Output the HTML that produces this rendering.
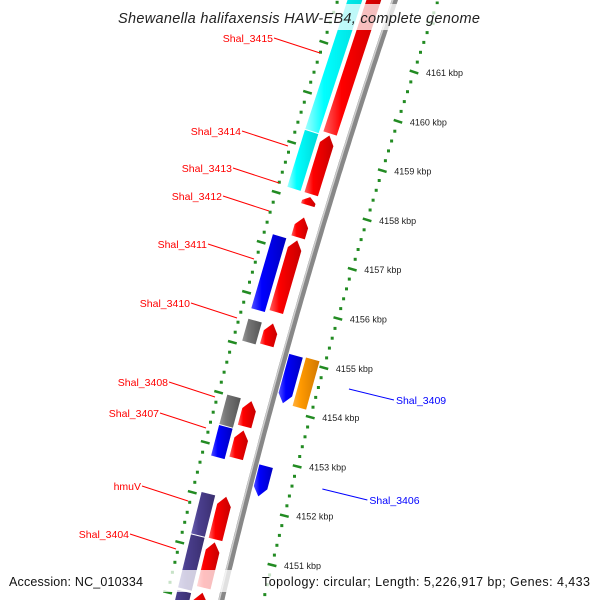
<!DOCTYPE html>
<html><head><meta charset="utf-8">
<style>
html,body{margin:0;padding:0;background:#fff}
svg{display:block}
text{font-family:"Liberation Sans",sans-serif}
</style></head>
<body>
<svg id="map" width="600" height="600" viewBox="0 0 600 600" xmlns="http://www.w3.org/2000/svg">
<defs>
<linearGradient id="gr" x1="0" x2="1"><stop offset="0" stop-color="#ff6060"/><stop offset="0.3" stop-color="#ff0000"/><stop offset="1" stop-color="#c80000"/></linearGradient>
<linearGradient id="gc" x1="0" x2="1"><stop offset="0" stop-color="#a0ffff"/><stop offset="0.3" stop-color="#00ffff"/><stop offset="1" stop-color="#00d8d8"/></linearGradient>
<linearGradient id="gb" x1="0" x2="1"><stop offset="0" stop-color="#5050ff"/><stop offset="0.3" stop-color="#0000ff"/><stop offset="1" stop-color="#0000c0"/></linearGradient>
<linearGradient id="gg" x1="0" x2="1"><stop offset="0" stop-color="#999"/><stop offset="0.3" stop-color="#777"/><stop offset="1" stop-color="#555"/></linearGradient>
<linearGradient id="gp" x1="0" x2="1"><stop offset="0" stop-color="#6a60b0"/><stop offset="0.3" stop-color="#4b3f8f"/><stop offset="1" stop-color="#3a2f70"/></linearGradient>
<linearGradient id="go" x1="0" x2="1"><stop offset="0" stop-color="#ffb040"/><stop offset="0.3" stop-color="#ff9900"/><stop offset="1" stop-color="#d07800"/></linearGradient>
</defs>
<g id="layer"></g>
<rect x="0" y="4" width="600" height="26" fill="#fff" opacity="0.75"/>
<text x="299" y="23" font-size="14.5" font-style="italic" text-anchor="middle" fill="#222" textLength="362">Shewanella halifaxensis HAW-EB4, complete genome</text>
<rect x="0" y="570" width="600" height="22" fill="#fff" opacity="0.75"/>
<text x="9" y="586" font-size="12.5" fill="#111" textLength="134">Accession: NC_010334</text>
<text x="262" y="586" font-size="12.5" fill="#111" textLength="328">Topology: circular; Length: 5,226,917 bp; Genes: 4,433</text>
</svg>
<script>
// Data (kbp)
const rulerTicks = [4151,4152,4153,4154,4155,4156,4157,4158,4159,4160,4161,4162];
const fwdStarts = [4159.38,4158.16,4157.94,4157.29,4155.79,4155.12,4153.49,4152.85,4151.22,4150.25,4149.44];
const fwdEnds   = [4162.42,4159.34,4158.10,4157.69,4157.23,4155.56,4154.00,4153.41,4152.08,4151.16,4150.15];
const catStarts = [4159.32,4158.16,4155.73,4155.08,4153.41,4152.78,4151.22,4150.14,4149.30];
const catEnds   = [4162.28,4159.30,4157.21,4155.52,4154.00,4153.39,4152.05,4151.20,4150.09];
const catColors = ["gc","gc","gb","gg","gg","gb","gp","gp","gp"];
const revStarts = [4154.12,4152.24];
const revEnds   = [4155.08,4152.85];
const revColors = ["gb","gb"];
const orangeStart = [4154.12];
const orangeEnd = [4155.10];
const fwdLabels = ["Shal_3415","Shal_3414","Shal_3413","Shal_3412","Shal_3411","Shal_3410","Shal_3408","Shal_3407","hmuV","Shal_3404"];
const fwdLabelY = [38,131,168,196,244,303,382,413,486,534];
const fwdLabelX = [273,241,232,222,207,190,168,159,141,129];
const revLabels = ["Shal_3409","Shal_3406"];
const revLabelY = [400,500];

const NS="http://www.w3.org/2000/svg";
const layer=document.getElementById('layer');
const PX=49.3;
const RP=[[72,414],[318,338],[565,272]];
function rulerX(y){
  let s=0;
  for(let i=0;i<3;i++){let t=RP[i][1];for(let j=0;j<3;j++){if(j!==i)t*=(y-RP[j][0])/(RP[i][0]-RP[j][0]);}s+=t;}
  return s;
}
function slopeAt(y){return (rulerX(y+0.5)-rulerX(y-0.5));}
// point at kbp k, normal offset d (negative = left/outward)
function pt(k,d){
  const y=72+(4161-k)*PX, x=rulerX(y), s=slopeAt(y), n=Math.sqrt(1+s*s);
  const nx=1/n, ny=-s/n, tx=s/n, ty=1/n;
  return {x:x+d*nx,y:y+d*ny,nx:nx,ny:ny,tx:tx,ty:ty};
}
function mk(tag,attrs){const e=document.createElementNS(NS,tag);for(const a in attrs)e.setAttribute(a,attrs[a]);layer.appendChild(e);return e;}
function pathAlong(d,k0,k1){let s='';for(let k=k0;k>=k1;k-=0.1){const p=pt(k,d);s+=(s?'L':'M')+p.x.toFixed(1)+','+p.y.toFixed(1);}return s;}

let bb=mk('path',{d:pathAlong(-41,4163,4148.9),stroke:'#888',"stroke-width":6,fill:'none'});


let bb2=mk('path',{d:pathAlong(-43,4163,4148.9),stroke:'#cfcfcf',"stroke-width":1.5,fill:'none'});



function P(p,a,b){return (p.x+a).toFixed(1)+','+(p.y+b).toFixed(1);}
function feature(d,kA,kB,fill,dir,w,name){
  const top=pt(Math.max(kA,kB),d), bot=pt(Math.min(kA,kB),d);
  const len=Math.hypot(bot.x-top.x,bot.y-top.y);
  const h=w/2, head=Math.min(9,len*0.6);
  let pts;
  if(dir===1){
    const sx=top.tx*head, sy=top.ty*head;
    pts=[P(top,0,0),P(top,sx+h*top.nx,sy+h*top.ny),P(bot,h*bot.nx,h*bot.ny),P(bot,-h*bot.nx,-h*bot.ny),P(top,sx-h*top.nx,sy-h*top.ny)];
  } else if(dir===-1){
    const sx=-bot.tx*head, sy=-bot.ty*head;
    pts=[P(top,-h*top.nx,-h*top.ny),P(top,h*top.nx,h*top.ny),P(bot,sx+h*bot.nx,sy+h*bot.ny),P(bot,0,0),P(bot,sx-h*bot.nx,sy-h*bot.ny)];
  } else {
    pts=[P(top,-h*top.nx,-h*top.ny),P(top,h*top.nx,h*top.ny),P(bot,h*bot.nx,h*bot.ny),P(bot,-h*bot.nx,-h*bot.ny)];
  }
  const e=mk('polygon',{points:pts.join(' '),fill:'url(#'+fill+')'});
  
  
}
for(let i=0;i<fwdStarts.length;i++)feature(-61,fwdStarts[i],fwdEnds[i],'gr',1,14,'forward-cds-'+i);
for(let i=0;i<catStarts.length;i++)feature(-79,catStarts[i],catEnds[i],catColors[i],0,14,'category-feature-'+i);
for(let i=0;i<revStarts.length;i++)feature(-30,revStarts[i],revEnds[i],revColors[i],-1,14,'reverse-cds-'+i);
for(let i=0;i<orangeStart.length;i++)feature(-13,orangeStart[i],orangeEnd[i],'go',0,14,'orange-feature-'+i);

function ruler(d,name){
  for(let i=0;i<=75;i++){
    const k=4163-i*0.2;
    const p=pt(k,d);
    if(p.y<-5||p.y>605)continue;
    const major=(i%5)===0;
    let e;
    if(major){e=mk('line',{x1:(p.x-4.5*p.nx).toFixed(1),y1:(p.y-4.5*p.ny).toFixed(1),x2:(p.x+4.5*p.nx).toFixed(1),y2:(p.y+4.5*p.ny).toFixed(1),stroke:'#228b22',"stroke-width":2.5});}
    else{e=mk('rect',{x:(p.x-1.5).toFixed(1),y:(p.y-1.5).toFixed(1),width:3,height:3,fill:'#228b22'});}
    
    
  }
}
ruler(0,'inner-ruler');
ruler(-95,'outer-ruler');
for(const k of rulerTicks){
  const p=pt(k,0);if(p.y<40||p.y>590)continue;
  const t=mk('text',{x:(p.x+12).toFixed(1),y:(p.y+4).toFixed(1),"font-size":9,fill:'#222'});
  t.textContent=k+' kbp';
  
  
}
for(let i=0;i<fwdLabels.length;i++){
  const y=fwdLabelY[i], x=fwdLabelX[i];
  const l=mk('line',{x1:x+1,y1:y,x2:x+47,y2:y+15,stroke:'#f00',"stroke-width":1});
  
  
  const t=mk('text',{x:x,y:y+4,"font-size":10.5,fill:'#f00',"text-anchor":'end'});
  t.textContent=fwdLabels[i];
  
  
}
for(let i=0;i<revLabels.length;i++){
  const y=revLabelY[i], x=rulerX(y)+81;
  const l=mk('line',{x1:x-47,y1:y-11,x2:x-2,y2:y,stroke:'#00f',"stroke-width":1});
  
  
  const t=mk('text',{x:x,y:y+4,"font-size":10.5,fill:'#00f'});
  t.textContent=revLabels[i];
  
  
}
</script>
</body></html>
